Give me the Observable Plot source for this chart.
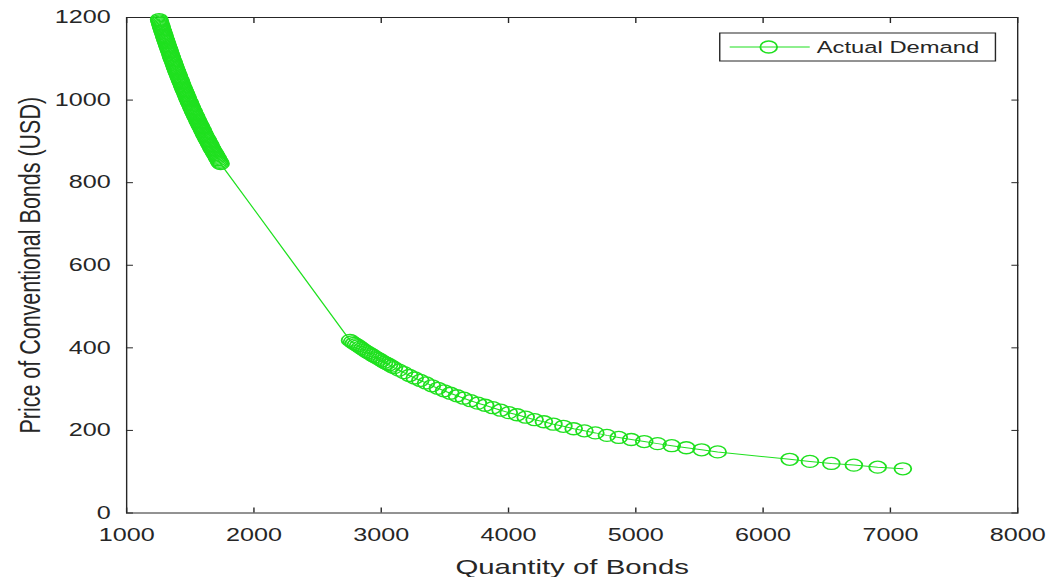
<!DOCTYPE html>
<html>
<head>
<meta charset="utf-8">
<script src="https://cdn.jsdelivr.net/npm/d3@7"></script>
<script src="https://cdn.jsdelivr.net/npm/@observablehq/plot@0.6"></script>
<style>
  body { margin: 0; background: #fff; }
  #chart svg g[aria-label="x-axis label"] text { font-size: 21px; }
  #chart svg g[aria-label="y-axis label"] text { font-size: 21.5px; }
</style>
</head>
<body>
<div id="chart"></div>
<script>
// ---- data ----
const quantity = [
  1255, 1258, 1261, 1264.5, 1268, 1271, 1274, 1277, 1280, 1283.5,
  1287, 1290.5, 1294, 1297, 1300, 1303.5, 1307, 1310.5, 1314, 1317.5,
  1321, 1324.5, 1328, 1331.5, 1335, 1338.5, 1342, 1345.5, 1349, 1352.5,
  1356, 1359.5, 1363, 1367, 1371, 1374.5, 1378, 1382, 1386, 1389.5,
  1393, 1397, 1401, 1405, 1409, 1413, 1417, 1421, 1425, 1429,
  1433, 1437, 1441, 1445, 1449, 1453.5, 1458, 1462, 1466, 1470.5,
  1475, 1479, 1483, 1487.5, 1492, 1496.5, 1501, 1505.5, 1510, 1514.5,
  1519, 1523.5, 1528, 1532.5, 1537, 1542, 1547, 1551.5, 1556, 1561,
  1566, 1571, 1576, 1581, 1586, 1591, 1596, 1601, 1606, 1611,
  1616, 1621, 1626, 1631.5, 1637, 1642, 1647, 1652.5, 1658, 1663.5,
  1669, 1674.5, 1680, 1686, 1692, 1697.5, 1703, 1708.5, 1714, 1720,
  1726, 1732, 1738,
  2755, 2770.5, 2786, 2802, 2818, 2834, 2850, 2866.5, 2883, 2900,
  2917, 2934.5, 2952, 2970, 2988, 3006, 3024, 3043, 3062, 3081,
  3100, 3139, 3179, 3221, 3263, 3307, 3352, 3398, 3445, 3493,
  3543, 3595, 3648, 3702, 3759, 3816, 3876, 3938, 4002, 4067,
  4135, 4205, 4278, 4353, 4431, 4512, 4596, 4682, 4773, 4866,
  4964, 5066, 5171, 5282, 5397, 5517, 5643,
  6209, 6368, 6536, 6713, 6900, 7098
];
const price = [
  1195, 1192, 1189, 1185.5, 1182, 1179, 1176, 1173, 1170, 1167,
  1164, 1160.5, 1157, 1154, 1151, 1148, 1145, 1142, 1139, 1135.5,
  1132, 1129, 1126, 1123, 1120, 1117, 1114, 1110.5, 1107, 1104,
  1101, 1098, 1095, 1092, 1089, 1085.5, 1082, 1079, 1076, 1073,
  1070, 1067, 1064, 1060.5, 1057, 1054, 1051, 1048, 1045, 1042,
  1039, 1035.5, 1032, 1029, 1026, 1023, 1020, 1017, 1014, 1010.5,
  1007, 1004, 1001, 998, 995, 992, 989, 985.5, 982, 979,
  976, 973, 970, 967, 964, 961, 958, 954.5, 951, 948,
  945, 942, 939, 936, 933, 930, 927, 923.5, 920, 917,
  914, 911, 908, 905, 902, 899, 896, 893, 890, 886.5,
  883, 880, 877, 874, 871, 868, 865, 862, 859, 855.5,
  852, 849, 846,
  418, 414.5, 411, 408, 405, 401.5, 398, 394.5, 391, 388,
  385, 381.5, 378, 375, 372, 368.5, 365, 362, 359, 355.5,
  352, 346, 340, 333, 327, 321, 315, 308, 302, 296,
  290, 284, 278, 272, 266, 261, 255, 249, 243, 238,
  232, 226, 221, 215, 210, 204, 199, 194, 188, 183,
  178, 173, 168, 163, 158, 153, 148,
  130, 125, 120, 116, 111, 107
];
const xTicks = [1000, 2000, 3000, 4000, 5000, 6000, 7000, 8000];
const yTicks = [0, 200, 400, 600, 800, 1000, 1200];
const seriesName = "Actual Demand";
const xLabel = "Quantity of Bonds";
const yLabel = "Price of Conventional Bonds (USD)";

// ---- build ----
const rows = quantity.map((q, i) => ({q, p: price[i]}));
const W = 1051, H = 577, IW = 751;           // internal width, stretched horizontally to W
const ink = "#262626", green = "#1fe01f";
const fmt = d3.format("d");

const svg = Plot.plot({
  width: IW, height: H,
  marginLeft: 90, marginRight: 24.3, marginTop: 17, marginBottom: 64.5,
  style: {fontFamily: "'Liberation Sans', Arial, sans-serif", fontSize: "18px", color: ink, background: "#fff", overflow: "visible"},
  x: {domain: [1000, 8000]},
  y: {domain: [0, 1200]},
  marks: [
    Plot.frame({stroke: ink, strokeWidth: 1}),
    Plot.axisX({anchor: "bottom", ticks: xTicks, tickFormat: fmt, tickSize: -5, tickPadding: 20,
      label: xLabel, labelAnchor: "center", labelArrow: "none", labelOffset: 61, fontSize: 18}),
    Plot.axisX({anchor: "top", ticks: xTicks, tickSize: -5, fill: "none", label: null}),
    Plot.axisY({anchor: "left", ticks: yTicks, tickFormat: fmt, tickSize: -5, tickPadding: 16.4,
      label: yLabel, labelAnchor: "center", labelArrow: "none", labelOffset: 77, fontSize: 18}),
    Plot.axisY({anchor: "right", ticks: yTicks, tickSize: -5, fill: "none", label: null}),
    Plot.line(rows, {x: "q", y: "p", stroke: green, strokeWidth: 1}),
    Plot.dot(rows, {x: "q", y: "p", r: 6, stroke: green, strokeWidth: 1.3, fill: "none"})
  ]
});

// legend (inside the plot, top right)
const lg = d3.select(svg).append("g").attr("aria-label", "legend");
lg.append("rect").attr("x", 514.3).attr("y", 33).attr("width", 197).attr("height", 28)
  .attr("fill", "#fff").attr("stroke", ink).attr("stroke-width", 1);
lg.append("line").attr("x1", 521.4).attr("x2", 578.6).attr("y1", 47).attr("y2", 47)
  .attr("stroke", green).attr("stroke-width", 1);
lg.append("circle").attr("cx", 549.3).attr("cy", 47).attr("r", 6)
  .attr("fill", "none").attr("stroke", green).attr("stroke-width", 1.3);
lg.append("text").attr("x", 583.6).attr("y", 53).attr("font-size", 17).attr("fill", ink)
  .attr("text-anchor", "start")
  .attr("font-family", "'Liberation Sans', Arial, sans-serif").text(seriesName);

// stretch horizontally like the reference
svg.setAttribute("viewBox", `0 0 ${IW} ${H}`);
svg.setAttribute("width", W);
svg.setAttribute("height", H);
svg.setAttribute("preserveAspectRatio", "none");
svg.style.width = W + "px";
svg.style.height = H + "px";
svg.style.maxWidth = "none";
document.getElementById("chart").appendChild(svg);
</script>
</body>
</html>
